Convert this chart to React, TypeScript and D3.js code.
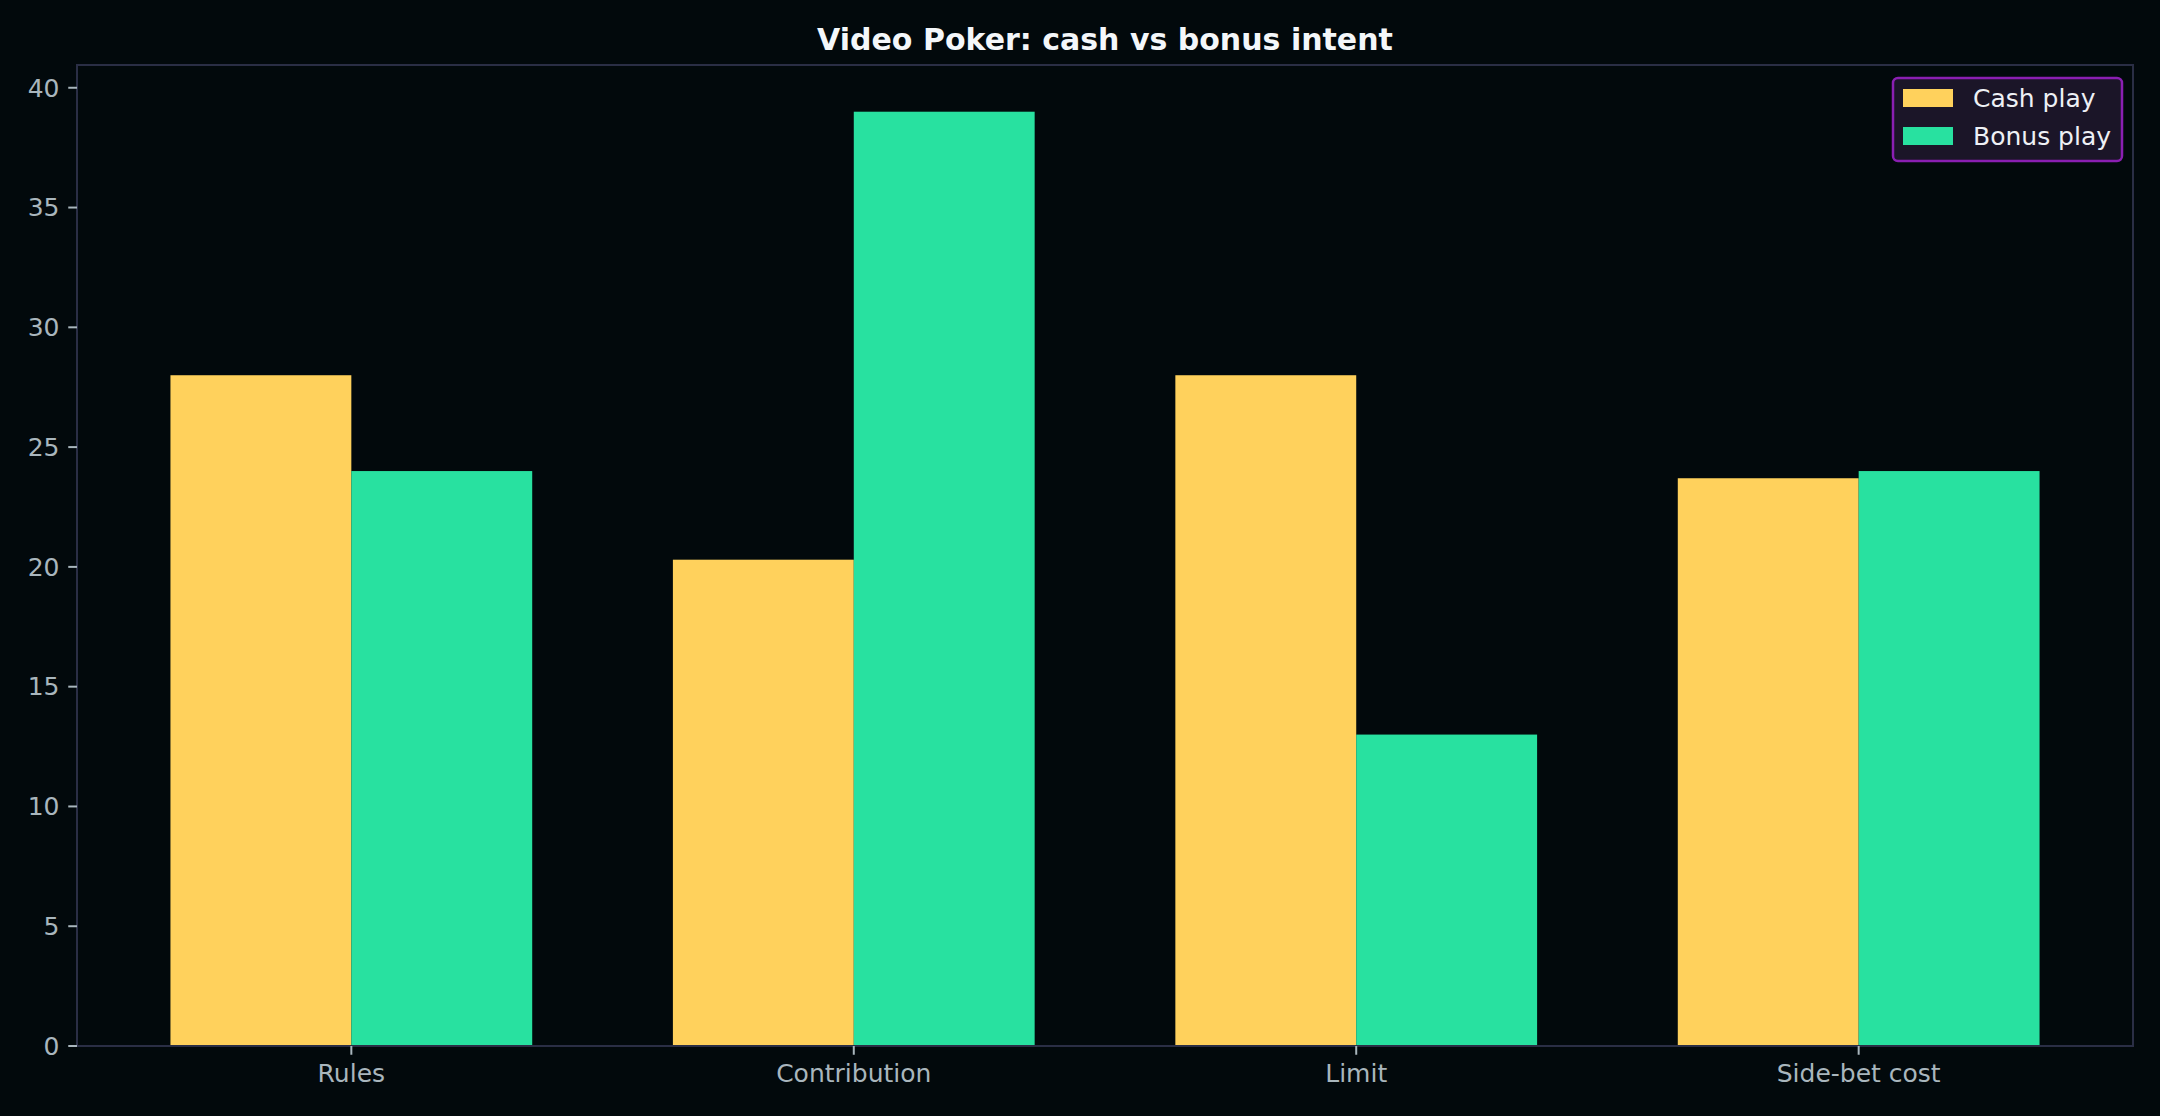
import React, { useEffect } from 'react';
import * as d3 from 'd3';

const width = 2160;
const height = 1116;
const margin = { left: 77, right: 27, top: 65, bottom: 70 };

const categories = ['Rules', 'Contribution', 'Limit', 'Side-bet cost'];
const seriesNames = ['Cash play', 'Bonus play'];
const cashPlay = [28, 20.3, 28, 23.7];
const bonusPlay = [24, 39, 13, 24];
const yTicks = [0, 5, 10, 15, 20, 25, 30, 35, 40];

const colors = ['#ffd15c', '#28e1a0'];
const barW = 0.36;

const x = d3.scaleLinear()
  .domain([-0.546, categories.length - 1 + 0.546])
  .range([margin.left, width - margin.right]);

const y = d3.scaleLinear()
  .domain([0, d3.max([...cashPlay, ...bonusPlay]) * 1.05])
  .range([height - margin.bottom, margin.top]);

const font = 'DejaVu Sans, sans-serif';

export default function App() {
  useEffect(() => {
    document.body.style.margin = '0';
    document.body.style.background = '#02090c';
  }, []);

  const series = [cashPlay, bonusPlay];
  const [x0, x1] = x.range();
  const [y0, y1] = y.range();

  return (
    <svg width={width} height={height} style={{ display: 'block' }} fontFamily={font}>
      <rect x={0} y={0} width={width} height={height} fill='#02090c' />
      <text x={(x0 + x1) / 2} y={49.5} textAnchor='middle' fontSize={30} fontWeight='bold' fill='#f4f7fa'>
        Video Poker: cash vs bonus intent
      </text>

      {series.map((vals, s) => vals.map((v, i) => {
        const left = s === 0 ? x(i - barW) : x(i);
        return (
          <rect key={`${s}-${i}`} x={left} y={y(v)} width={x(i + barW) - x(i)}
            height={y(0) - y(v)} fill={colors[s]} />
        );
      }))}

      {/* spines */}
      <rect x={x0} y={y1} width={x1 - x0} height={y0 - y1} fill='none' stroke='#2a2e45' strokeWidth={2} />

      {yTicks.map(t => (
        <g key={t} transform={`translate(0, ${y(t)})`}>
          <line x1={x0 - 8.75} x2={x0} stroke='#a9b6bd' strokeWidth={2} />
          <text x={x0 - 17.5} dy='0.35em' textAnchor='end' fontSize={25} fill='#a9b6bd'>{t}</text>
        </g>
      ))}

      {categories.map((c, i) => (
        <g key={c} transform={`translate(${x(i)}, ${y0})`}>
          <line y1={0} y2={8.75} stroke='#a9b6bd' strokeWidth={2} />
          <text y={36} textAnchor='middle' fontSize={25} fill='#a9b6bd'>{c}</text>
        </g>
      ))}

      {/* legend */}
      <g transform='translate(1893, 78)'>
        <rect width={229} height={83} rx={5} fill='#1b1528' stroke='#8a1fb2' strokeWidth={2.5} />
        {seriesNames.map((n, i) => (
          <g key={n} transform={`translate(0, ${20 + i * 38})`}>
            <rect x={10} y={-9} width={50} height={18} fill={colors[i]} />
            <text x={80} dy='0.35em' fontSize={25} fill='#eef0f5'>{n}</text>
          </g>
        ))}
      </g>
    </svg>
  );
}
